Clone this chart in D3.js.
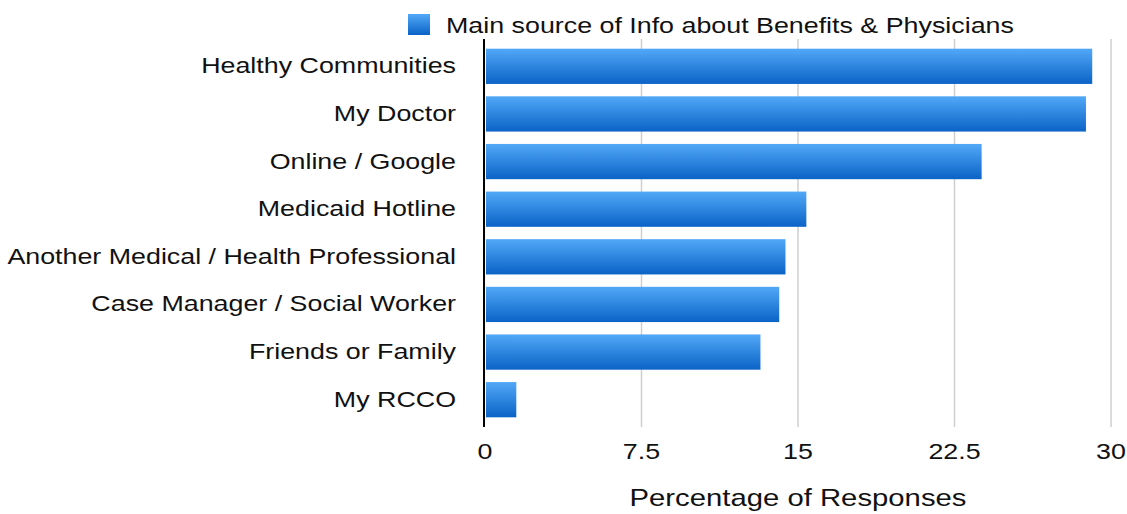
<!DOCTYPE html>
<html>
<head>
<meta charset="utf-8">
<script src="https://cdn.jsdelivr.net/npm/d3@7"></script>
<style>
  html, body { margin: 0; padding: 0; background: #fff; }
  svg { display: block; font-family: "Liberation Sans", Arial, Helvetica, sans-serif; }
</style>
</head>
<body>
<svg id="chart" width="1127" height="514"></svg>
<script>
// Chart data
const categories = [
  'Healthy Communities',
  'My Doctor',
  'Online / Google',
  'Medicaid Hotline',
  'Another Medical / Health Professional',
  'Case Manager / Social Worker',
  'Friends or Family',
  'My RCCO'
];
const percentages = [29.1, 28.8, 23.8, 15.4, 14.4, 14.1, 13.2, 1.5];
const tickValues = [0, 7.5, 15, 22.5, 30];
const seriesName = 'Main source of Info about Benefits & Physicians';
const axisTitle = 'Percentage of Responses';

const svg = d3.select('#chart');

// Text in the reference is a bit wider than Liberation Sans, stretch it horizontally
const STRETCH = 1.22;
function stretchedText(g, x, y, str, size, anchor) {
  return g.append('text')
    .attr('transform', `translate(${x},${y}) scale(${STRETCH},1)`)
    .attr('text-anchor', anchor)
    .attr('font-size', size)
    .attr('fill', '#111')
    .text(str);
}

// Gradient for bars and legend swatch
const defs = svg.append('defs');
const grad = defs.append('linearGradient')
  .attr('id', 'barGrad')
  .attr('x1', 0).attr('y1', 0).attr('x2', 0).attr('y2', 1);
grad.append('stop').attr('offset', '0%').attr('stop-color', '#52a8f7');
grad.append('stop').attr('offset', '100%').attr('stop-color', '#0a63c6');

// Scales
const x = d3.scaleLinear().domain([0, 30]).range([485, 1111]);
const y = d3.scaleBand()
  .domain(categories)
  .range([42.5, 423.5])
  .paddingInner(0.26)
  .paddingOuter(0.13);

const plotTop = 39, plotBottom = 427;

// Vertical gridlines (not at zero, the axis line sits there)
svg.append('g')
  .selectAll('line')
  .data(tickValues.filter(d => d > 0))
  .enter()
  .append('line')
  .attr('x1', d => x(d)).attr('x2', d => x(d))
  .attr('y1', plotTop).attr('y2', plotBottom)
  .attr('stroke', '#cfcfcf')
  .attr('stroke-width', 1.5);

// Bars
svg.append('g')
  .selectAll('rect')
  .data(categories)
  .enter()
  .append('rect')
  .attr('x', x(0) + 1)
  .attr('y', d => y(d))
  .attr('width', (d, i) => x(percentages[i]) - x(0) - 1)
  .attr('height', y.bandwidth())
  .attr('fill', 'url(#barGrad)');

// Zero axis line
svg.append('line')
  .attr('x1', x(0) - 1).attr('x2', x(0) - 1)
  .attr('y1', plotTop).attr('y2', plotBottom)
  .attr('stroke', '#000')
  .attr('stroke-width', 2);

// Category labels
const catG = svg.append('g');
categories.forEach(c => {
  stretchedText(catG, 456, y(c) + y.bandwidth() / 2 + 7, c, 22, 'end');
});

// Tick labels
const tickG = svg.append('g');
tickValues.forEach(t => {
  stretchedText(tickG, x(t), 459, d3.format('~g')(t), 22, 'middle');
});

// Axis title
stretchedText(svg, (x(0) + x(30)) / 2, 506, axisTitle, 24, 'middle');

// Legend
const legend = svg.append('g');
legend.append('rect')
  .attr('x', 408).attr('y', 14)
  .attr('width', 22).attr('height', 21)
  .attr('fill', 'url(#barGrad)');
stretchedText(legend, 446, 33, seriesName, 22, 'start');
</script>
</body>
</html>
